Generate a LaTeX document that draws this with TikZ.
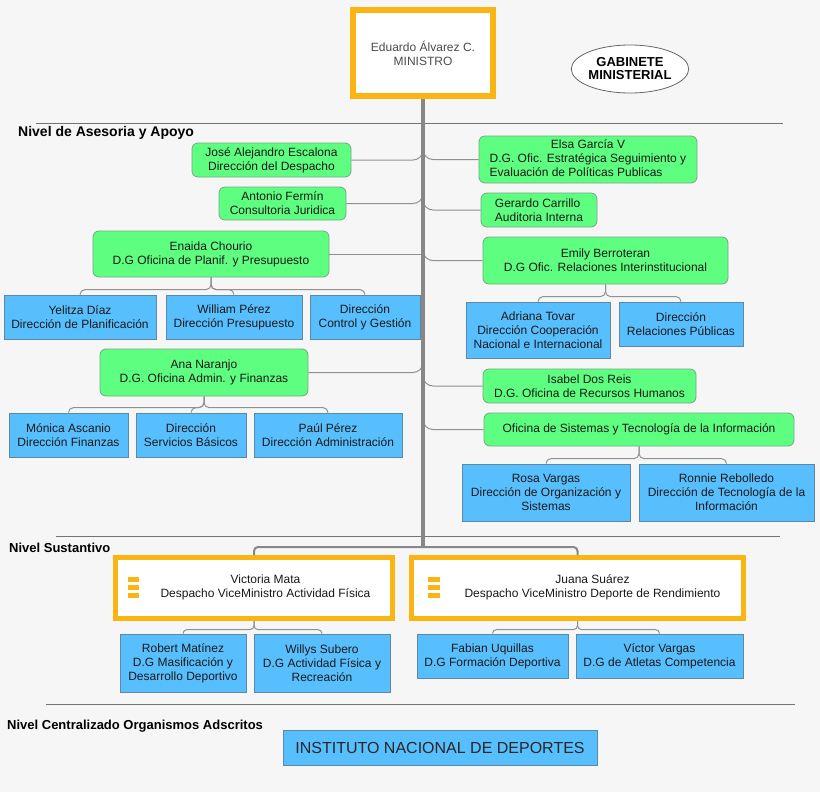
\documentclass[tikz,border=0pt]{standalone}
\usepackage{fontspec}
\setmainfont{Liberation Sans}
\usepackage{tikz}
\usetikzlibrary{positioning,calc,shapes.geometric}
\definecolor{sheet}{RGB}{246,246,246}
\definecolor{vicecolor}{RGB}{250,180,20}
\definecolor{greencolor}{RGB}{94,255,128}
\definecolor{greenline}{RGB}{120,165,135}
\definecolor{bluecolor}{RGB}{88,191,255}
\definecolor{blueline}{RGB}{95,135,170}
\definecolor{linkcolor}{RGB}{145,145,145}
\definecolor{stemcolor}{RGB}{135,135,135}
\definecolor{inkcolor}{RGB}{25,25,25}
\tikzset{
    org box/.style={rectangle, draw, inner sep=2pt, align=center, text=inkcolor, font=\fontsize{12}{14}\selectfont},
    green box/.style={org box, rounded corners=6pt, fill=greencolor, draw=greenline, line width=0.8pt},
    blue box/.style={org box, fill=bluecolor, draw=blueline, line width=0.8pt},
    vice box/.style={org box, fill=white, draw=vicecolor, line width=5pt},
    minister box/.style={org box, fill=white, draw=vicecolor, line width=6pt, text=black!70},
    cabinet/.style={ellipse, draw=black!60, fill=white, line width=0.8pt, inner sep=0pt, align=center, font=\bfseries\fontsize{13}{13}\selectfont},
    link/.style={draw=linkcolor, line width=1pt},
    stem line/.style={draw=stemcolor, line width=4pt},
    level line/.style={draw=black!55, line width=0.8pt},
    level label/.style={anchor=west, inner sep=0pt, font=\bfseries\fontsize{13}{15}\selectfont}
}

\begin{document}
\begin{tikzpicture}[x=1pt, y=-1pt]
    % Page frame
    \fill[sheet, use as bounding box] (0,0) rectangle (820,792);

    % Minister and cabinet
    \node[minister box, minimum width=140pt, minimum height=86pt] (ministro) at (423,53) {Eduardo Álvarez C.\\MINISTRO};
    \node[cabinet, minimum width=106pt, minimum height=48pt] (gabinete) at (630,69) {GABINETE\\MINISTERIAL};
    \coordinate (stem) at (423,547);

    % Level separators
    \draw[level line] (36,123) -- (783,123);
    \node[level label, font=\bfseries\fontsize{14}{15}\selectfont] (asesoria) at (18,133) {Nivel de Asesoria y Apoyo};
    \draw[level line] (56,536) -- (780,536);
    \node[level label] (sustantivo) at (9,548) {Nivel Sustantivo};
    \draw[level line] (46,704) -- (795,704);
    \node[level label] (centralizado) at (7,726) {Nivel Centralizado Organismos Adscritos};

    % Support offices - left side
    \node[green box, minimum width=159pt, minimum height=34pt] (jose) at (271.5,160) {José Alejandro Escalona\\Dirección del Despacho};
    \node[green box, minimum width=127pt, minimum height=33pt] (antonio) at (282.5,203.5) {Antonio Fermín\\Consultoria Juridica};
    \node[green box, minimum width=236pt, minimum height=46pt] (enaida) at (211,254) {Enaida Chourio\\D.G Oficina de Planif. y Presupuesto};
    \node[green box, minimum width=208pt, minimum height=47pt] (ana) at (204,372.5) {Ana Naranjo\\D.G. Oficina Admin. y Finanzas};

    \node[blue box, minimum width=152pt, minimum height=44pt] (yelitza) at (80,317) {Yelitza Díaz\\Dirección de Planificación};
    \node[blue box, minimum width=136pt, minimum height=44pt] (william) at (234,317) {William Pérez\\Dirección Presupuesto};
    \node[blue box, minimum width=110pt, minimum height=44pt] (control) at (365,317) {Dirección\\Control y Gestión};

    \node[blue box, minimum width=119pt, minimum height=44pt] (monica) at (68.5,435) {Mónica Ascanio\\Dirección Finanzas};
    \node[blue box, minimum width=110pt, minimum height=44pt] (servicios) at (191,435) {Dirección\\Servicios Básicos};
    \node[blue box, minimum width=148pt, minimum height=44pt] (paul) at (328,435) {Paúl Pérez\\Dirección Administración};

    % Support offices - right side
    \node[green box, minimum width=218pt, minimum height=47pt] (elsa) at (588,159.5) {\begin{tabular}{@{}l@{}}\multicolumn{1}{@{}c@{}}{Elsa García V}\\D.G. Ofic. Estratégica Seguimiento y\\Evaluación de Políticas Publicas\end{tabular}};
    \node[green box, minimum width=116pt, minimum height=34pt, align=left] (gerardo) at (539,210) {Gerardo Carrillo\\Auditoria Interna};
    \node[green box, minimum width=245pt, minimum height=47pt] (emily) at (605.5,260.5) {Emily Berroteran\\D.G Ofic. Relaciones Interinstitucional};
    \node[green box, minimum width=213pt, minimum height=34pt] (isabel) at (589.5,386) {Isabel Dos Reis\\D.G. Oficina de Recursos Humanos};
    \node[green box, minimum width=310pt, minimum height=33pt] (sistemas) at (639,429.5) {Oficina de Sistemas y Tecnología de la Información};

    \node[blue box, minimum width=144pt, minimum height=56pt] (adriana) at (538,330) {Adriana Tovar\\Dirección Cooperación\\Nacional e Internacional};
    \node[blue box, minimum width=124pt, minimum height=44pt] (relaciones) at (681,324) {Dirección\\Relaciones Públicas};

    \node[blue box, minimum width=168pt, minimum height=57pt] (rosa) at (546,492.5) {Rosa Vargas\\Dirección de Organización y\\Sistemas};
    \node[blue box, minimum width=175pt, minimum height=57pt] (ronnie) at (726.5,492.5) {Ronnie Rebolledo\\Dirección de Tecnología de la\\Información};

    % Vice ministers
    \node[vice box, minimum width=277pt, minimum height=61pt] (victoria) at (254,588) {\hspace*{23pt}\begin{tabular}{@{}c@{}}Victoria Mata\\Despacho ViceMinistro Actividad Física\end{tabular}};
    \node[vice box, minimum width=332pt, minimum height=61pt] (juana) at (577.5,588) {\hspace*{30pt}\begin{tabular}{@{}c@{}}Juana Suárez\\Despacho ViceMinistro Deporte de Rendimiento\end{tabular}};
    \foreach \k in {0,1,2} {
        \fill[vicecolor] ([xshift=14.5pt, yshift={6pt-8pt*\k}]victoria.west) rectangle ++(11pt,5pt);
        \fill[vicecolor] ([xshift=18.5pt, yshift={6pt-8pt*\k}]juana.west) rectangle ++(12pt,5pt);
    }

    \node[blue box, minimum width=126pt, minimum height=58pt] (robert) at (183,663) {Robert Matínez\\D.G Masificación y\\Desarrollo Deportivo};
    \node[blue box, minimum width=136pt, minimum height=58pt] (willys) at (322,663) {Willys Subero\\D.G Actividad Física y\\Recreación};
    \node[blue box, minimum width=151pt, minimum height=44pt] (fabian) at (492.5,656) {Fabian Uquillas\\D.G Formación Deportiva};
    \node[blue box, minimum width=167pt, minimum height=44pt] (victor) at (659.5,656) {Víctor Vargas\\D.G de Atletas Competencia};

    % Attached body
    \node[blue box, minimum width=314pt, minimum height=35pt, font=\fontsize{16}{18}\selectfont, text=black!85] (inder) at (440,747.5) {INSTITUTO NACIONAL DE DEPORTES};

    % Links to the stem
    \foreach \n in {jose,antonio,ana} {
        \draw[link, rounded corners=10pt] (\n.east) -| ($(\n.east -| stem)+(0pt,14pt)$);
    }
    \draw[link] (enaida.east) -- (enaida.east -| stem);
    \foreach \n in {elsa,gerardo,emily,isabel,sistemas} {
        \draw[link, rounded corners=10pt] ($(\n.west -| stem)+(0pt,14pt)$) |- (\n.west);
    }

    % Links to the directorates
    \foreach \c in {yelitza,william,control} {
        \draw[link, rounded corners=5pt] (enaida.south) |- ([yshift=5pt]\c.north) -- (\c.north);
    }
    \foreach \c in {monica,servicios,paul} {
        \draw[link, rounded corners=5pt] (ana.south) |- ([yshift=5pt]\c.north) -- (\c.north);
    }
    \foreach \c in {adriana,relaciones} {
        \draw[link, rounded corners=5pt] (emily.south) |- ([yshift=5pt]\c.north) -- (\c.north);
    }
    \foreach \c in {rosa,ronnie} {
        \draw[link, rounded corners=5pt] (sistemas.south) |- ([yshift=5pt]\c.north) -- (\c.north);
    }
    \foreach \c in {robert,willys} {
        \draw[link, rounded corners=4pt] (victoria.south) |- ([yshift=4pt]\c.north) -- (\c.north);
    }
    \foreach \c in {fabian,victor} {
        \draw[link, rounded corners=4pt] (juana.south) |- ([yshift=4pt]\c.north) -- (\c.north);
    }

    % Stem and vice minister bus
    \draw[link, line width=2pt, draw=stemcolor, rounded corners=4pt] (victoria.north) |- (stem) -| (juana.north);
    \draw[stem line] (ministro.south) -- (stem);
\end{tikzpicture}
\end{document}
